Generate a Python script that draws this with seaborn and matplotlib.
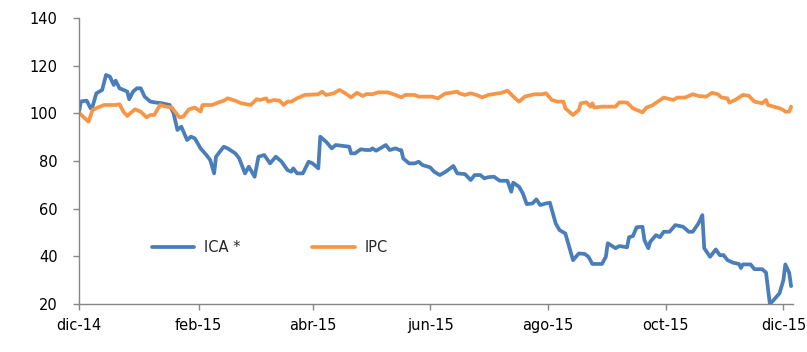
import pandas as pd
import matplotlib.pyplot as plt
import seaborn as sns

# ICA * series
ica_dates = [
    "2014-12-01", "2014-12-02", "2014-12-05", "2014-12-07", "2014-12-08", "2014-12-10",
    "2014-12-13", "2014-12-15", "2014-12-17", "2014-12-19", "2014-12-20", "2014-12-22",
    "2014-12-25", "2014-12-26", "2014-12-27", "2014-12-29", "2014-12-31", "2015-01-02",
    "2015-01-04", "2015-01-07", "2015-01-10", "2015-01-13", "2015-01-17", "2015-01-19",
    "2015-01-21", "2015-01-23", "2015-01-26", "2015-01-28", "2015-01-30", "2015-02-02",
    "2015-02-05", "2015-02-07", "2015-02-09", "2015-02-10", "2015-02-14", "2015-02-16",
    "2015-02-20", "2015-02-22", "2015-02-25", "2015-02-27", "2015-03-02", "2015-03-04",
    "2015-03-07", "2015-03-10", "2015-03-13", "2015-03-16", "2015-03-19", "2015-03-21",
    "2015-03-22", "2015-03-24", "2015-03-27", "2015-03-30", "2015-04-01", "2015-04-04",
    "2015-04-05", "2015-04-08", "2015-04-11", "2015-04-13", "2015-04-17", "2015-04-20",
    "2015-04-21", "2015-04-23", "2015-04-26", "2015-04-29", "2015-05-01", "2015-05-02",
    "2015-05-04", "2015-05-09", "2015-05-11", "2015-05-14", "2015-05-16", "2015-05-17",
    "2015-05-18", "2015-05-21", "2015-05-24", "2015-05-26", "2015-05-28", "2015-06-01",
    "2015-06-03", "2015-06-06", "2015-06-09", "2015-06-13", "2015-06-15", "2015-06-19",
    "2015-06-22", "2015-06-24", "2015-06-27", "2015-06-29", "2015-07-01", "2015-07-04",
    "2015-07-07", "2015-07-11", "2015-07-13", "2015-07-14", "2015-07-17", "2015-07-19",
    "2015-07-21", "2015-07-24", "2015-07-26", "2015-07-28", "2015-07-31", "2015-08-02",
    "2015-08-05", "2015-08-07", "2015-08-10", "2015-08-12", "2015-08-14", "2015-08-17",
    "2015-08-20", "2015-08-22", "2015-08-24", "2015-08-29", "2015-08-31", "2015-09-01",
    "2015-09-05", "2015-09-07", "2015-09-11", "2015-09-12", "2015-09-14", "2015-09-16",
    "2015-09-19", "2015-09-20", "2015-09-22", "2015-09-23", "2015-09-26", "2015-09-28",
    "2015-09-30", "2015-10-03", "2015-10-06", "2015-10-10", "2015-10-13", "2015-10-15",
    "2015-10-18", "2015-10-20", "2015-10-21", "2015-10-24", "2015-10-27", "2015-10-29",
    "2015-10-31", "2015-11-02", "2015-11-05", "2015-11-08", "2015-11-09", "2015-11-10",
    "2015-11-14", "2015-11-16", "2015-11-20", "2015-11-22", "2015-11-24", "2015-11-26",
    "2015-11-29", "2015-12-01", "2015-12-02", "2015-12-04", "2015-12-05",
]
ica_values = [
    100.5, 105.0, 105.3, 102.1, 102.8, 108.4,
    109.8, 116.1, 115.4, 111.9, 113.7, 110.5,
    109.5, 109.1, 105.9, 109.1, 110.5, 110.5,
    107.0, 104.9, 104.5, 104.2, 103.5, 100.0,
    93.0, 94.4, 88.8, 90.2, 89.5, 85.3,
    82.5, 80.4, 74.8, 81.8, 86.0, 85.3,
    83.2, 81.1, 74.8, 77.6, 73.4, 81.8,
    82.5, 79.0, 81.8, 79.7, 76.2, 75.5,
    76.9, 74.8, 74.8, 79.7, 79.0, 76.9,
    90.2, 88.1, 85.3, 86.7, 86.3, 86.0,
    83.2, 83.2, 84.9, 84.6, 84.6, 85.3,
    84.3, 86.7, 84.6, 85.3, 84.6, 84.6,
    81.1, 79.0, 79.0, 79.7, 78.3, 77.3,
    75.5, 74.1, 75.5, 77.9, 74.8, 74.5,
    72.0, 74.1, 74.1, 72.7, 73.2, 73.4,
    71.7, 71.7, 67.1, 70.9, 69.2, 66.4,
    61.9, 62.2, 63.9, 61.5, 62.2, 62.5,
    53.8, 51.0, 49.6, 44.0, 38.4, 41.2,
    41.0, 39.8, 36.8, 36.8, 39.8, 45.5,
    43.4, 44.3, 43.8, 48.0, 48.5, 52.2,
    52.4, 46.8, 43.4, 46.1, 48.9, 48.0,
    50.3, 50.3, 53.1, 52.4, 50.3, 50.3,
    53.8, 57.3, 43.4, 39.8, 42.9, 40.5,
    40.5, 38.4, 37.3, 36.8, 35.1, 36.6,
    36.6, 34.6, 34.6, 33.2, 20.0, 21.7,
    24.5, 30.0, 36.6, 33.1, 27.5,
]

# IPC series
ipc_dates = [
    "2014-12-01", "2014-12-04", "2014-12-06", "2014-12-08", "2014-12-11", "2014-12-14",
    "2014-12-20", "2014-12-22", "2014-12-24", "2014-12-26", "2014-12-30", "2015-01-02",
    "2015-01-05", "2015-01-07", "2015-01-09", "2015-01-12", "2015-01-15", "2015-01-18",
    "2015-01-22", "2015-01-24", "2015-01-27", "2015-01-30", "2015-02-02", "2015-02-03",
    "2015-02-08", "2015-02-11", "2015-02-14", "2015-02-16", "2015-02-20", "2015-02-23",
    "2015-02-28", "2015-03-03", "2015-03-05", "2015-03-08", "2015-03-09", "2015-03-12",
    "2015-03-15", "2015-03-17", "2015-03-19", "2015-03-21", "2015-03-24", "2015-03-28",
    "2015-04-04", "2015-04-06", "2015-04-08", "2015-04-12", "2015-04-15", "2015-04-18",
    "2015-04-21", "2015-04-24", "2015-04-27", "2015-04-29", "2015-05-02", "2015-05-05",
    "2015-05-10", "2015-05-14", "2015-05-17", "2015-05-19", "2015-05-24", "2015-05-26",
    "2015-06-02", "2015-06-05", "2015-06-09", "2015-06-10", "2015-06-15", "2015-06-16",
    "2015-06-19", "2015-06-22", "2015-06-25", "2015-06-28", "2015-07-01", "2015-07-04",
    "2015-07-08", "2015-07-11", "2015-07-15", "2015-07-17", "2015-07-20", "2015-07-25",
    "2015-07-29", "2015-07-31", "2015-08-03", "2015-08-06", "2015-08-09", "2015-08-10",
    "2015-08-14", "2015-08-17", "2015-08-18", "2015-08-21", "2015-08-23", "2015-08-24",
    "2015-08-25", "2015-08-29", "2015-09-05", "2015-09-07", "2015-09-11", "2015-09-14",
    "2015-09-19", "2015-09-21", "2015-09-24", "2015-09-30", "2015-10-05", "2015-10-07",
    "2015-10-11", "2015-10-15", "2015-10-18", "2015-10-22", "2015-10-25", "2015-10-28",
    "2015-10-30", "2015-11-02", "2015-11-03", "2015-11-06", "2015-11-10", "2015-11-13",
    "2015-11-16", "2015-11-20", "2015-11-22", "2015-11-23", "2015-11-29", "2015-12-01",
    "2015-12-02", "2015-12-04", "2015-12-05",
]
ipc_values = [
    100.3, 97.9, 96.5, 101.4, 102.5, 103.5,
    103.5, 103.8, 100.7, 98.9, 101.7, 100.7,
    98.3, 99.3, 99.3, 103.5, 102.8, 102.5,
    98.3, 98.6, 101.7, 102.4, 100.7, 103.5,
    103.5, 104.5, 105.3, 106.3, 105.3, 104.2,
    103.5, 105.9, 105.6, 106.3, 104.9, 105.6,
    105.3, 103.5, 104.9, 104.9, 106.3, 107.7,
    108.0, 109.1, 107.7, 108.4, 109.8, 108.4,
    106.7, 108.6, 107.3, 108.1, 108.0, 108.8,
    108.8, 107.7, 106.7, 107.7, 107.7, 107.0,
    107.0, 106.3, 108.4, 108.4, 109.1, 108.4,
    107.7, 108.4, 107.7, 106.7, 107.7, 108.1,
    108.6, 109.5, 106.3, 104.9, 107.0, 108.0,
    108.0, 108.4, 105.6, 104.9, 104.9, 102.1,
    99.3, 101.4, 104.2, 104.6, 102.8, 104.2,
    102.4, 102.8, 102.8, 104.6, 104.5, 102.1,
    100.4, 102.4, 103.3, 106.6, 105.6, 106.6,
    106.6, 108.0, 107.3, 107.0, 108.6, 108.0,
    106.6, 106.3, 104.5, 105.6, 107.7, 107.4,
    104.9, 104.2, 105.6, 103.5, 102.1, 101.4,
    100.7, 100.7, 102.8,
]

series_names = ["ICA *", "IPC"]
series_colors = ["#4A7EBB", "#F79646"]

tick_dates = ["2014-12-01", "2015-02-01", "2015-04-01", "2015-06-01",
              "2015-08-01", "2015-10-01", "2015-12-01"]
tick_labels = ["dic-14", "feb-15", "abr-15", "jun-15", "ago-15", "oct-15", "dic-15"]
y_ticks = [20, 40, 60, 80, 100, 120, 140]


def main():
    df = pd.concat([
        pd.DataFrame({"fecha": pd.to_datetime(ica_dates), "valor": ica_values,
                      "serie": series_names[0]}),
        pd.DataFrame({"fecha": pd.to_datetime(ipc_dates), "valor": ipc_values,
                      "serie": series_names[1]}),
    ], ignore_index=True)

    sns.set_style("white")
    plt.rcParams["font.family"] = ["DejaVu Sans"]

    fig = plt.figure(figsize=(8.07, 3.52), dpi=100)
    ax = fig.add_axes([0.0979, 0.1364, 0.8848, 0.8125])

    sns.lineplot(data=df, x="fecha", y="valor", hue="serie",
                 palette=dict(zip(series_names, series_colors)),
                 linewidth=2.7, ax=ax, estimator=None, sort=True)

    ax.set_xlim(pd.Timestamp("2014-12-01"), pd.Timestamp("2015-12-06"))
    ax.set_ylim(20, 140)
    ax.set_xticks(pd.to_datetime(tick_dates))
    ax.set_xticklabels(tick_labels)
    ax.set_yticks(y_ticks)
    ax.set_xlabel("")
    ax.set_ylabel("")

    for side in ["top", "right"]:
        ax.spines[side].set_visible(False)
    for side in ["left", "bottom"]:
        ax.spines[side].set_color("#868686")
        ax.spines[side].set_linewidth(1.0)
    ax.tick_params(axis="both", which="major", direction="out", length=4.3,
                   width=1.0, color="#868686", labelsize=10.5, labelcolor="#000000",
                   left=True, bottom=True)
    ax.tick_params(axis="x", pad=6)
    ax.tick_params(axis="y", pad=11)

    ax.legend(loc="center left", bbox_to_anchor=(0.102, 0.197), ncol=2,
              frameon=False, fontsize=10.5, handlelength=2.9, handletextpad=0.7,
              columnspacing=4.9, borderpad=0, borderaxespad=0)

    fig.savefig("out.png", dpi=100)


if __name__ == "__main__":
    main()
